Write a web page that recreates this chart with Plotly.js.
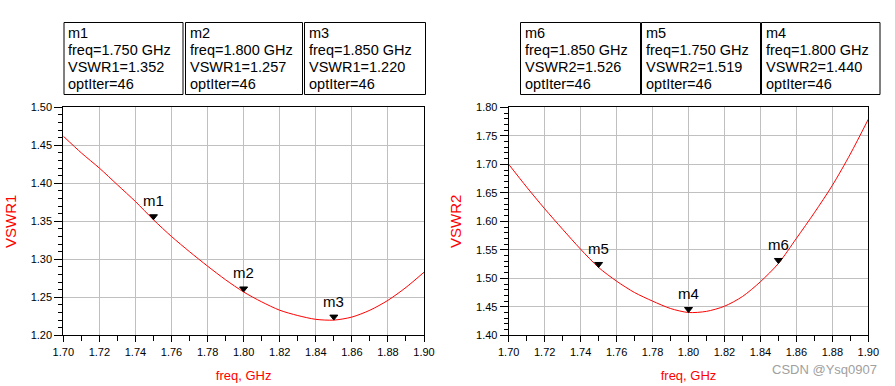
<!DOCTYPE html>
<html>
<head>
<meta charset="utf-8">
<script src="https://cdn.plot.ly/plotly-3.0.1.min.js"></script>
<style>html,body{margin:0;padding:0;background:#fff;}#chart{width:895px;height:386px;}</style>
</head>
<body>
<div id="chart"></div>
<script>
// ---- data ----
const freq = [1.70,1.71,1.72,1.73,1.74,1.75,1.76,1.77,1.78,1.79,1.80,1.81,1.82,1.83,1.84,1.85,1.86,1.87,1.88,1.89,1.90];
const vswr1 = [1.462,1.440,1.420,1.398,1.376,1.352,1.330,1.310,1.291,1.273,1.257,1.244,1.233,1.226,1.221,1.220,1.224,1.233,1.246,1.263,1.283];
const vswr2 = [1.700,1.660,1.622,1.586,1.551,1.519,1.495,1.475,1.460,1.447,1.440,1.442,1.451,1.468,1.494,1.526,1.570,1.615,1.663,1.718,1.779];

const mNames1 = ['m1','m2','m3'];
const mFreq1 = [1.750,1.800,1.850];
const mVal1 = [1.352,1.257,1.220];
const mNames2 = ['m6','m5','m4'];
const mFreq2 = [1.850,1.750,1.800];
const mVal2 = [1.526,1.519,1.440];
const optIter = 46;

const xTickVals = [1.70,1.72,1.74,1.76,1.78,1.80,1.82,1.84,1.86,1.88,1.90];

// ---- layout helpers ----
const W = 895, H = 386;
const px = v => v / W;
const py = v => 1 - v / H;
const FONT = 'Arial, "Liberation Sans", sans-serif';

const traces = [
  {x: freq, y: vswr1, xaxis: 'x', yaxis: 'y', mode: 'lines', line: {color: '#ff0000', width: 1, shape: 'spline', smoothing: 0.8}, hoverinfo: 'x+y'},
  {x: freq, y: vswr2, xaxis: 'x2', yaxis: 'y2', mode: 'lines', line: {color: '#ff0000', width: 1, shape: 'spline', smoothing: 0.8}, hoverinfo: 'x+y'}
];

function xAxis(domain, anchor) {
  return {
    domain: domain, anchor: anchor, range: [1.70, 1.90], tickvals: xTickVals, tickformat: '.2f',
    showgrid: true, gridcolor: '#c0c0c0', gridwidth: 1, zeroline: false,
    showline: true, linecolor: '#000', linewidth: 1, mirror: true,
    ticks: 'outside', ticklen: 6, tickcolor: '#000', tickwidth: 1,
    minor: {dtick: 0.01, ticks: 'outside', ticklen: 5, tickcolor: '#000', showgrid: false},
    tickfont: {family: FONT, size: 11, color: '#000'},
    title: {text: 'freq, GHz', font: {family: FONT, size: 13, color: '#ff0000'}, standoff: 14},
    automargin: false, fixedrange: true
  };
}
function yAxis(range, anchor, title) {
  return {
    domain: [py(335.3), py(107.3)], anchor: anchor, range: range, dtick: 0.05, tick0: 1.2, tickformat: '.2f',
    showgrid: true, gridcolor: '#c0c0c0', gridwidth: 1, zeroline: false,
    showline: true, linecolor: '#000', linewidth: 1, mirror: true,
    ticks: 'outside', ticklen: 8, tickcolor: '#000', tickwidth: 1,
    minor: {dtick: 0.01, ticks: 'outside', ticklen: 4, tickcolor: '#000', showgrid: false},
    tickfont: {family: FONT, size: 11, color: '#000'},
    title: {text: title, font: {family: FONT, size: 15, color: '#ff0000'}, standoff: 10},
    automargin: false, fixedrange: true
  };
}

const shapes = [];
const annotations = [];

// marker triangles and labels
function addMarkers(names, fr, vals, xr, yr) {
  names.forEach((n, i) => {
    shapes.push({type: 'path', xref: xr, yref: yr, xsizemode: 'pixel', ysizemode: 'pixel',
      xanchor: fr[i], yanchor: vals[i], path: 'M-4,5 L4,5 L0,0 Z',
      fillcolor: '#000', line: {color: '#000', width: 1}});
    annotations.push({xref: xr, yref: yr, x: fr[i], y: vals[i], text: n, showarrow: false,
      yshift: 19, xanchor: 'center', yanchor: 'middle', font: {family: FONT, size: 15, color: '#000'}});
  });
}
addMarkers(mNames1, mFreq1, mVal1, 'x', 'y');
addMarkers(mNames2, mFreq2, mVal2, 'x2', 'y2');

// readout boxes
const boxes1 = [[64, 183], [185.5, 302.5], [304.5, 425.5]];
const boxes2 = [[520.5, 640.5], [641.5, 760.5], [761.5, 880]];
const lineY = [33, 50, 67, 84];
function addBoxes(boxes, names, fr, vals, varName) {
  boxes.forEach((b, i) => {
    shapes.push({type: 'rect', xref: 'paper', yref: 'paper', x0: px(b[0]), x1: px(b[1]), y0: py(94.5), y1: py(22.5),
      line: {color: '#000', width: 1}, fillcolor: 'rgba(0,0,0,0)'});
    const lines = [names[i], 'freq=' + fr[i].toFixed(3) + ' GHz', varName + '=' + vals[i].toFixed(3), 'optIter=' + optIter];
    lines.forEach((t, j) => {
      annotations.push({xref: 'paper', yref: 'paper', x: px(b[0] + 3), y: py(lineY[j]), text: t, showarrow: false,
        borderpad: 0, xanchor: 'left', yanchor: 'middle', font: {family: FONT, size: 14.5, color: '#000'}});
    });
  });
}
addBoxes(boxes1, mNames1, mFreq1, mVal1, 'VSWR1');
addBoxes(boxes2, mNames2, mFreq2, mVal2, 'VSWR2');

annotations.push({xref: 'paper', yref: 'paper', x: px(879), y: py(369), text: 'CSDN @Ysq0907', showarrow: false,
  xanchor: 'right', yanchor: 'middle', font: {family: FONT, size: 13, color: '#a0a0a0'}});

const layout = {
  width: W, height: H,
  margin: {l: 0, r: 0, t: 0, b: 0, pad: 0},
  paper_bgcolor: '#fff', plot_bgcolor: '#fff',
  showlegend: false,
  xaxis: xAxis([px(63.3), px(424)], 'y'),
  yaxis: yAxis([1.20, 1.50], 'x', 'VSWR1'),
  xaxis2: xAxis([px(508.7), px(868.3)], 'y2'),
  yaxis2: yAxis([1.40, 1.80], 'x2', 'VSWR2'),
  shapes: shapes,
  annotations: annotations,
  font: {family: FONT}
};

Plotly.newPlot('chart', traces, layout, {displayModeBar: false, staticPlot: true});
</script>
</body>
</html>
